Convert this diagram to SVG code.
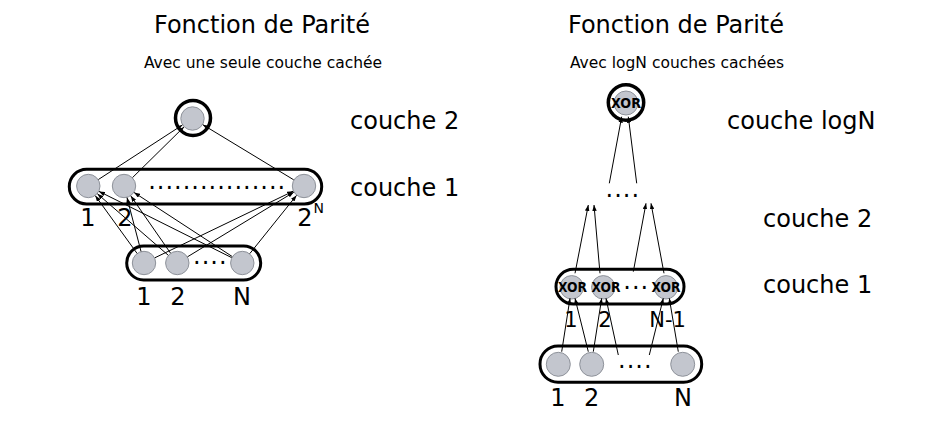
<svg xmlns="http://www.w3.org/2000/svg" width="927" height="427" viewBox="0 0 927 427">
<defs>
<style>
.t{font-family:"DejaVu Sans",sans-serif;fill:#000}
.title{font-size:24px;text-anchor:middle}
.sub{font-size:15.5px;text-anchor:middle}
.lay{font-size:24px}
.lab{font-size:24px;text-anchor:middle}
.labr{font-size:21px;text-anchor:middle}
.dots{font-size:24px;letter-spacing:1px}
.xor{font-size:14px;font-weight:bold;text-anchor:middle}
.box{fill:#fff;stroke:#000;stroke-width:3}
.ring{fill:#fff;stroke:#000;stroke-width:3.5}
.n{fill:#c3c6ce;stroke:#8e929a;stroke-width:1}
.c line{stroke:#000;stroke-width:1;marker-end:url(#ah)}
</style>
<marker id="ah" viewBox="0 0 8 6" refX="8" refY="3" markerWidth="6" markerHeight="4.5" markerUnits="userSpaceOnUse" orient="auto">
<path d="M0,0 L8,3 L0,6 Z" fill="#000"/>
</marker>
</defs>
<rect width="927" height="427" fill="#fff"/>

<g id="titles">
<text class="t title" x="262" y="33">Fonction de Parité</text>
<text class="t sub" x="263" y="67.5">Avec une seule couche cachée</text>
<text class="t title" x="676" y="33">Fonction de Parité</text>
<text class="t sub" x="677" y="67.5">Avec logN couches cachées</text>
</g>

<g id="layer-labels">
<text class="t lay" x="350" y="129">couche 2</text>
<text class="t lay" x="350" y="196">couche 1</text>
<text class="t lay" x="727" y="129">couche logN</text>
<text class="t lay" x="763" y="227">couche 2</text>
<text class="t lay" x="763" y="293">couche 1</text>
</g>

<!-- Left diagram -->
<g id="left-output">
<circle class="ring" cx="193" cy="118" r="17.5"/>
<circle class="n" cx="192.5" cy="118.5" r="11.7"/>
</g>
<g id="left-hidden">
<rect class="box" x="69.3" y="169.3" width="252.4" height="34.7" rx="17.3"/>
<circle class="n" cx="88.3" cy="186" r="11.7"/>
<circle class="n" cx="124" cy="186" r="11.7"/>
<circle class="n" cx="304" cy="186" r="11.7"/>
<text class="t dots" x="148.2" y="188.5">................</text>
<text class="t lab" x="88" y="226">1</text>
<text class="t lab" x="125" y="226">2</text>
<text class="t lab" x="305" y="226">2</text>
<text class="t" x="313.5" y="213" font-size="14">N</text>
</g>
<g id="left-input">
<rect class="box" x="126.7" y="246" width="134" height="34" rx="17"/>
<circle class="n" cx="144" cy="263" r="11.7"/>
<circle class="n" cx="177.3" cy="263" r="11.7"/>
<circle class="n" cx="242.3" cy="263" r="11.7"/>
<text class="t dots" x="193" y="264">....</text>
<text class="t lab" x="144" y="305">1</text>
<text class="t lab" x="178" y="305">2</text>
<text class="t lab" x="242" y="305">N</text>
</g>

<!-- Right diagram -->
<g id="right-output">
<circle class="ring" cx="626" cy="102.5" r="17.7"/>
<circle class="n" cx="626" cy="103" r="12"/>
<text class="t xor" x="626" y="108.3" textLength="30" lengthAdjust="spacingAndGlyphs">XOR</text>
</g>
<g id="right-layer2">
<text class="t dots" x="605.5" y="196.5">....</text>
</g>
<g id="right-xor-layer">
<rect class="box" x="556" y="269.3" width="128" height="34.7" rx="17.3"/>
<circle class="n" cx="571.7" cy="287.3" r="11.7"/>
<circle class="n" cx="603.3" cy="287.3" r="11.7"/>
<circle class="n" cx="666" cy="287.3" r="11.7"/>
<text class="t xor" x="572.5" y="292" textLength="29" lengthAdjust="spacingAndGlyphs">XOR</text>
<text class="t xor" x="606" y="292" textLength="29" lengthAdjust="spacingAndGlyphs">XOR</text>
<text class="t xor" x="666" y="292" textLength="29" lengthAdjust="spacingAndGlyphs">XOR</text>
<text class="t dots" x="623.3" y="289">...</text>
<text class="t labr" x="571" y="326.7">1</text>
<text class="t labr" x="605" y="326.7">2</text>
<text class="t labr" x="667.5" y="326.7">N-1</text>
</g>
<g id="right-input">
<rect class="box" x="540" y="346" width="161.7" height="36.3" rx="18"/>
<circle class="n" cx="558.3" cy="364.3" r="12"/>
<circle class="n" cx="591.7" cy="364.3" r="12"/>
<circle class="n" cx="682.7" cy="364.3" r="12"/>
<text class="t dots" x="618" y="367.5">....</text>
<text class="t lab" x="558" y="406">1</text>
<text class="t lab" x="591.7" y="406">2</text>
<text class="t lab" x="683" y="406">N</text>
</g>

<g id="connectors" class="c">
<line x1="137.0" y1="253.3" x2="95.3" y2="195.7"/>
<line x1="141.0" y1="251.4" x2="127.0" y2="197.6"/>
<line x1="154.8" y1="257.8" x2="293.2" y2="191.2"/>
<line x1="168.2" y1="255.2" x2="97.4" y2="193.8"/>
<line x1="170.5" y1="253.1" x2="130.8" y2="195.9"/>
<line x1="187.5" y1="256.8" x2="293.8" y2="192.2"/>
<line x1="231.6" y1="257.6" x2="99.0" y2="191.4"/>
<line x1="232.2" y1="256.5" x2="134.1" y2="192.5"/>
<line x1="249.8" y1="253.6" x2="296.5" y2="195.4"/>
<line x1="98.4" y1="179.5" x2="182.4" y2="125.0"/>
<line x1="132.5" y1="177.6" x2="184.0" y2="126.9"/>
<line x1="293.7" y1="179.8" x2="202.8" y2="124.7"/>

<line x1="561.7" y1="351.7" x2="570" y2="298.3"/>
<line x1="588.3" y1="351.7" x2="575" y2="298.3"/>
<line x1="593.3" y1="351.7" x2="601.7" y2="298.3"/>
<line x1="618.3" y1="355" x2="606" y2="298.3"/>
<line x1="649.3" y1="355" x2="663.3" y2="298.3"/>
<line x1="678.3" y1="351.7" x2="669.3" y2="298.3"/>
<line x1="575" y1="273.3" x2="588.3" y2="205"/>
<line x1="600" y1="273.3" x2="594" y2="205"/>
<line x1="633.3" y1="271.7" x2="646" y2="203.3"/>
<line x1="664" y1="273.3" x2="651" y2="203.3"/>
<line x1="609.3" y1="183.3" x2="621.7" y2="116.7"/>
<line x1="636.7" y1="183.3" x2="628.3" y2="116.7"/>
</g>
</svg>
